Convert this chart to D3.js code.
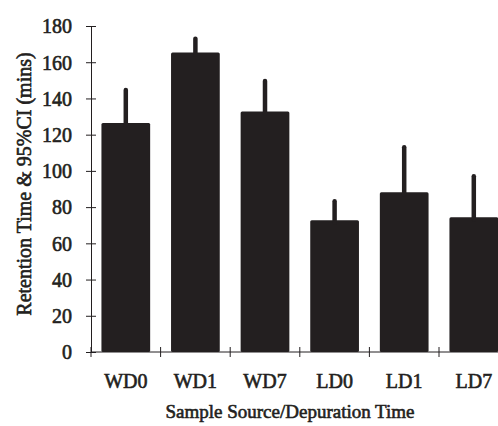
<!DOCTYPE html>
<html>
<head>
<meta charset="utf-8">
<script src="https://cdn.jsdelivr.net/npm/d3@7/dist/d3.min.js"></script>
<style>
  html, body { margin: 0; padding: 0; background: #fff; }
  svg text { font-family: 'Liberation Serif', 'Times New Roman', serif; fill: #231f20; }
</style>
</head>
<body>
<div class="visual"></div>
<script>
const [width, height] = [498, 426];
const ink = '#231f20';

const categories = ['WD0', 'WD1', 'WD7', 'LD0', 'LD1', 'LD7'];
const means = [126.5, 165.3, 132.8, 72.8, 88.2, 74.4];
const upper_ci = [145.8, 174.1, 150.7, 84.3, 114.1, 98.1];
const y_ticks = [0, 20, 40, 60, 80, 100, 120, 140, 160, 180];

const [Y_TITLE, X_TITLE] = [
  'Retention Time & 95%CI (mins)',
  'Sample Source/Depuration Time',
];

const svg = d3
  .select('.visual')
  .append('svg')
  .attr('width', width)
  .attr('height', height);

const x_scale = d3
  .scaleBand()
  .domain(categories)
  .range([91, 91 + 6 * 69.6])
  .paddingInner(0.3)
  .paddingOuter(0.15);

const y_scale = d3.scaleLinear().domain([0, 180]).range([352, 26]);

// y axis, ticks crossing the line
const y_axis = svg
  .append('g')
  .attr('transform', 'translate(91, 0)')
  .call(d3.axisLeft(y_scale).tickValues(y_ticks).tickSizeOuter(0).tickPadding(13));

y_axis.select('.domain').attr('stroke', ink);
y_axis.selectAll('.tick line').attr('x1', 5).attr('x2', -5).attr('stroke', ink);
y_axis.selectAll('.tick text').style('font-size', '20px').attr('dy', '0.34em');

// x axis: line + boundary ticks, labels at band centres
const step = x_scale.step();
const bounds = categories.map((c) => x_scale(c) - step * 0.15);

svg
  .append('line')
  .attr('x1', 91)
  .attr('x2', width)
  .attr('y1', y_scale(0))
  .attr('y2', y_scale(0))
  .attr('stroke', ink);

svg
  .selectAll('.xtick')
  .data(bounds)
  .enter()
  .append('line')
  .attr('class', 'xtick')
  .attr('x1', (d) => d)
  .attr('x2', (d) => d)
  .attr('y1', y_scale(0) - 5)
  .attr('y2', y_scale(0) + 5)
  .attr('stroke', ink);

const x_axis = svg
  .append('g')
  .attr('transform', `translate(0, ${y_scale(0)})`)
  .call(d3.axisBottom(x_scale).tickSize(0).tickPadding(22));

x_axis.select('.domain').remove();
x_axis.selectAll('.tick text').style('font-size', '20px');

// bars
svg
  .selectAll('.bar')
  .data(means)
  .enter()
  .append('rect')
  .attr('class', 'bar')
  .attr('x', (_d, i) => x_scale(categories[i]))
  .attr('y', (d) => y_scale(d))
  .attr('width', x_scale.bandwidth())
  .attr('height', (d) => y_scale(0) - y_scale(d))
  .attr('rx', 1.5)
  .style('fill', ink);

// upper CI whiskers
svg
  .selectAll('.err')
  .data(upper_ci)
  .enter()
  .append('line')
  .attr('class', 'err')
  .attr('x1', (_d, i) => x_scale(categories[i]) + x_scale.bandwidth() / 2)
  .attr('x2', (_d, i) => x_scale(categories[i]) + x_scale.bandwidth() / 2)
  .attr('y1', (_d, i) => y_scale(means[i]) + 2)
  .attr('y2', (d) => y_scale(d) + 2)
  .attr('stroke', ink)
  .attr('stroke-width', 4.5)
  .attr('stroke-linecap', 'round');

// titles
svg
  .append('text')
  .attr('transform', 'translate(31, 184) rotate(-90)')
  .attr('text-anchor', 'middle')
  .style('font-size', '20px')
  .text(Y_TITLE);

svg
  .append('text')
  .attr('x', 290)
  .attr('y', 418)
  .attr('text-anchor', 'middle')
  .style('font-size', '19px')
  .text(X_TITLE);

svg.selectAll('text').attr('stroke', ink).attr('stroke-width', 0.6);
</script>
</body>
</html>
